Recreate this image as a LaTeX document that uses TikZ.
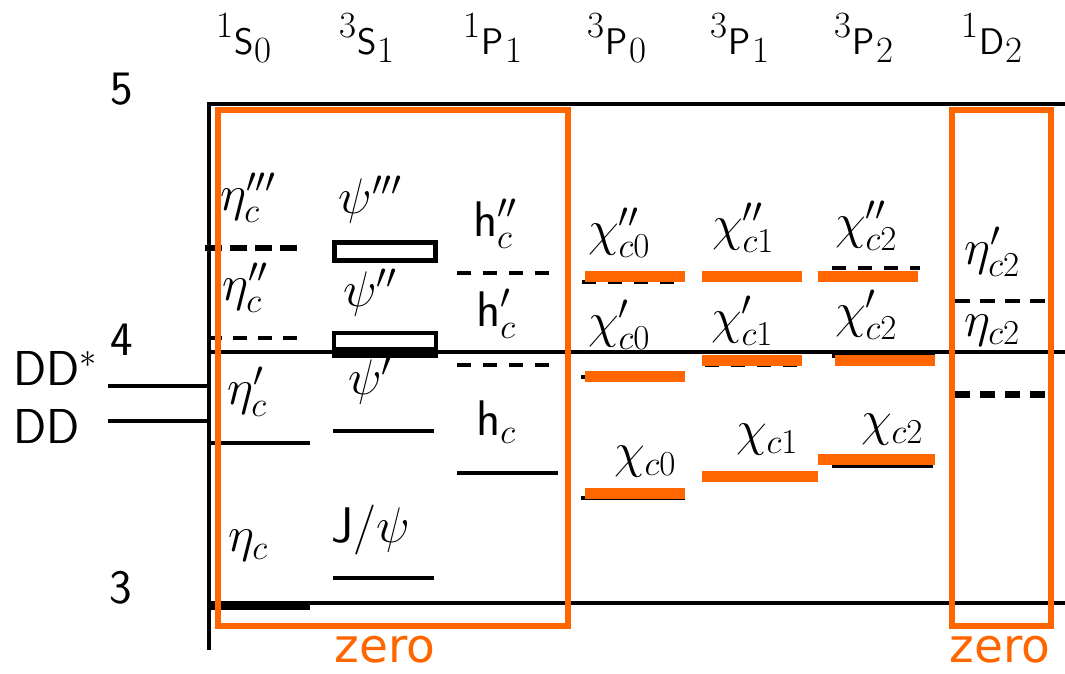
\RequirePackage{fix-cm}
\documentclass[tikz,border=0pt]{standalone}
\usepackage{fontspec}
\newfontfamily\zerofont{DejaVu Sans}
\definecolor{orng}{HTML}{FF6600}
\newcommand{\termlbl}[3]{\raisebox{17pt}{\rmfamily #1}\kern1pt\textsf{#2}\kern1pt\raisebox{-8pt}{\rmfamily #3}}
\tikzset{
  axisline/.style={line width=4pt, black},
  lvl/.style={line width=4pt, black},
  dlvl/.style={line width=4pt, black, dash pattern=on 14pt off 12pt},
  d1lvl/.style={line width=4pt, black, dash pattern=on 15pt off 10pt},
  obar/.style={orng, line width=11pt},
  obox/.style={draw=orng, line width=6pt},
  lbl/.style={font=\fontsize{50}{55}\selectfont\sffamily, inner sep=0pt},
  collbl/.style={font=\fontsize{37}{40}\selectfont\sffamily, anchor=base, inner sep=0pt},
  ticklbl/.style={font=\fontsize{48}{52}\selectfont\sffamily, anchor=base, inner sep=0pt},
  ddlbl/.style={font=\fontsize{49}{52}\selectfont\sffamily, anchor=base west, inner sep=0pt},
  zerolbl/.style={font=\fontsize{47}{50}\selectfont\zerofont, text=orng, anchor=base, inner sep=0pt}
}
\begin{document}
\begin{tikzpicture}[x=1pt,y=-1pt]
\useasboundingbox (0,0) rectangle (1065,674);
% axes
\coordinate (ax0) at (209,104);
\coordinate (ax1) at (209,650);
\draw[axisline] (ax0) -- (ax1);
\draw[axisline] (207,104) -- (1065,104);
\draw[axisline] (209,352) -- (1065,352);
\draw[axisline] (209,603) -- (1065,603);
% thresholds
\draw[lvl] (108,386) -- (209,386);
\draw[lvl] (108,421) -- (209,421);
\node[ddlbl] (ddst) at (13,385) {DD$^*$};
\node[ddlbl] (dd) at (13,443) {DD};
% tick labels
\node[ticklbl] (t5) at (122,105) {5};
\node[ticklbl] (t4) at (122,355) {4};
\node[ticklbl] (t3) at (121,603) {3};
% column labels
\node[collbl] (c1) at (244,55) {\termlbl{1}{S}{0}};
\node[collbl] (c2) at (367,55) {\termlbl{3}{S}{1}};
\node[collbl] (c3) at (493,55) {\termlbl{1}{P}{1}};
\node[collbl] (c4) at (617,55) {\termlbl{3}{P}{0}};
\node[collbl] (c5) at (740,55) {\termlbl{3}{P}{1}};
\node[collbl] (c6) at (864,55) {\termlbl{3}{P}{2}};
\node[collbl] (c7) at (992,55) {\termlbl{1}{D}{2}};
% 1S0
\draw[line width=6pt, dash pattern=on 17pt off 8pt] (205,248) -- (297,248);
\draw[line width=4pt, dash pattern=on 14pt off 11pt] (208,338) -- (297,338);
\draw[lvl] (209,443) -- (310,443);
\draw[line width=9pt] (209,605) -- (310,605);
\node[lbl] (etc3) at (248,198) {$\eta'''_c$};
\node[lbl] (etc2) at (245,288) {$\eta''_c$};
\node[lbl] (etc1) at (247,392) {$\eta'_c$};
\node[lbl] (etc0) at (248,546) {$\eta_c$};
% 3S1
\node[lbl] (psi3) at (370,200) {$\psi'''$};
\node[lbl] (psi2) at (370,293) {$\psi''$};
\node[lbl] (psi1) at (370,381) {$\psi'$};
\node[lbl] (jpsi) at (371,530) {J$/\psi$};
\draw[line width=5pt, fill=white] (334.5,242.5) rectangle (435,260);
\draw[line width=4pt, fill=white] (334,333) rectangle (436,350);
\fill (332,347) rectangle (438,358);
\draw[lvl] (333,431) -- (434,431);
\draw[lvl] (333,578) -- (434,578);
% 1P1
\draw[dlvl] (457,273) -- (549,273);
\draw[dlvl] (457,365) -- (549,365);
\draw[lvl] (457,473) -- (558,473);
\node[lbl] (hc2) at (495,224) {$\mathsf{h}''_c$};
\node[lbl] (hc1) at (496,314) {$\mathsf{h}'_c$};
\node[lbl] (hc0) at (496,422) {$\mathsf{h}_c$};
% 3P0
\draw[dlvl] (582,282) -- (674,282);
\draw[lvl] (581,377) -- (685,377);
\draw[lvl] (581,498) -- (685,498);
\node[lbl] (x02) at (619,233) {$\chi''_{c0}$};
\node[lbl] (x01) at (619,325) {$\chi'_{c0}$};
\node[lbl] (x00) at (645,462) {$\chi_{c0}$};
% 3P1
\draw[dlvl] (705,365) -- (800,365);
\node[lbl] (x12) at (743,228) {$\chi''_{c1}$};
\node[lbl] (x11) at (742,321) {$\chi'_{c1}$};
\node[lbl] (x10) at (767,440) {$\chi_{c1}$};
% 3P2
\draw[dlvl] (832,268) -- (920,268);
\draw[lvl] (832,356) -- (935,356);
\draw[lvl] (832,466) -- (933,466);
\node[lbl] (x22) at (866,226) {$\chi''_{c2}$};
\node[lbl] (x21) at (866,315) {$\chi'_{c2}$};
\node[lbl] (x20) at (892,430) {$\chi_{c2}$};
% 1D2
\draw[d1lvl] (955,301) -- (1045,301);
\draw[line width=7pt, dash pattern=on 15pt off 10pt] (955,394) -- (1045,394);
\node[lbl] (ed1) at (992,252) {$\eta'_{c2}$};
\node[lbl] (ed0) at (992,331) {$\eta_{c2}$};
% orange bars
\draw[obar] (585,276.5) -- (685,276.5);
\draw[obar] (702,276.5) -- (802,276.5);
\draw[obar] (818,276.5) -- (918,276.5);
\draw[obar] (585,376) -- (685,376);
\draw[obar] (702,360) -- (802,360);
\draw[obar] (835,360) -- (935,360);
\draw[obar] (585,493) -- (685,493);
\draw[obar] (702,476.5) -- (818,476.5);
\draw[obar] (818,459.5) -- (935,459.5);
% orange boxes
\draw[obox] (218,110) rectangle (568,626);
\draw[obox] (952,110) rectangle (1051,626);
\node[zerolbl] (z1) at (385,662) {zero};
\node[zerolbl] (z2) at (1000,662) {zero};
\end{tikzpicture}
\end{document}
